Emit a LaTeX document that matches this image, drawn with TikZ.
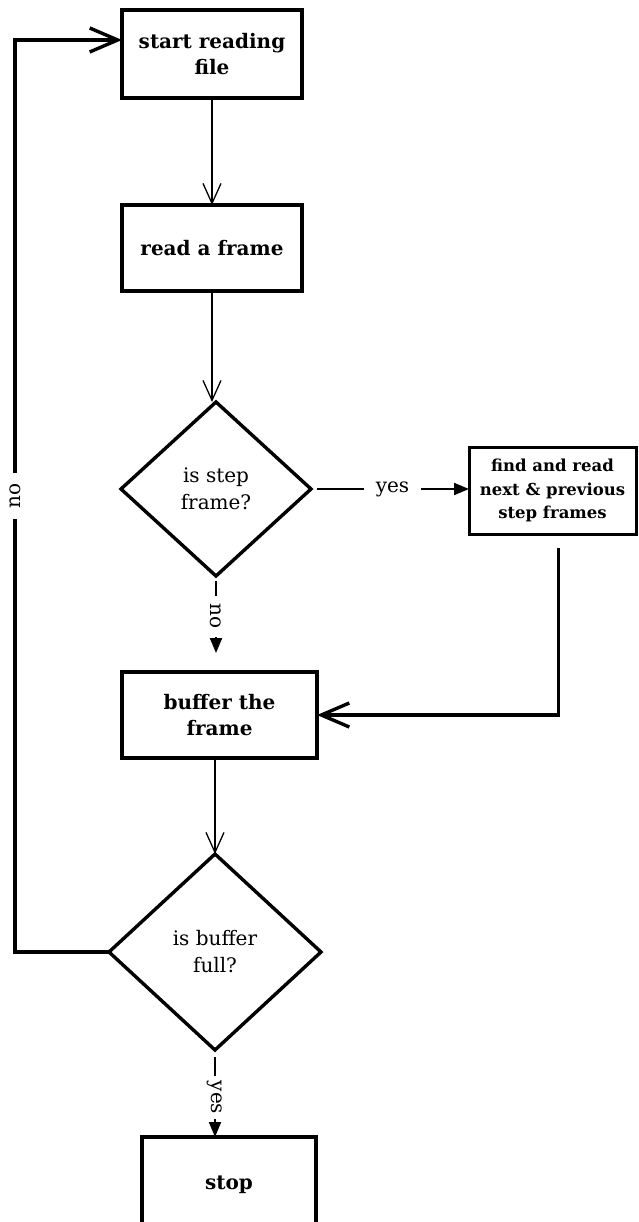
\documentclass[tikz,border=0pt]{standalone}
\usepackage{fontspec}
\setmainfont{DejaVu Serif}
\usetikzlibrary{shapes.geometric,arrows.meta}
\begin{document}
\begin{tikzpicture}[x=1pt,y=-1pt,
  box/.style={draw, rectangle, line width=4pt, inner sep=0pt, outer sep=0pt,
    align=center, font=\fontsize{20}{26}\selectfont\bfseries},
  smallbox/.style={box, line width=3pt, font=\fontsize{16.5}{23.5}\selectfont\bfseries},
  decision/.style={draw, diamond, line width=3.4pt, inner sep=0pt, outer sep=0pt,
    align=center, font=\fontsize{20}{27}\selectfont},
  flow/.style={line width=1.3pt, -{Straight Barb[length=20pt,width=18pt]}},
  branch/.style={line width=2pt, -{Triangle[length=15pt,width=12pt]}},
  loopline/.style={line width=3.4pt, -{Straight Barb[length=28pt,width=24pt]}},
  lbl/.style={fill=white, inner ysep=1pt, font=\fontsize{20}{25}\selectfont}
]
\useasboundingbox (0,0) rectangle (638,1222);
\clip (0,0) rectangle (638,1222);

% process steps
\node[box, minimum width=180pt, minimum height=88pt] (start) at (212,54) {start reading\\file};
\node[box, minimum width=180pt, minimum height=86pt] (read) at (212,248) {read a frame};
\node[decision, minimum width=190pt, minimum height=174pt] (isstep) at (216,489) {is step\\frame?};
\node[smallbox, minimum width=167pt, minimum height=87pt] (neighbours) at (552.5,490.5)
  {find and read\\next \& previous\\step frames};
\node[box, minimum width=195pt, minimum height=86pt] (buffer) at (219.5,715) {buffer the\\frame};
\node[decision, minimum width=212pt, minimum height=196pt] (isfull) at (215,952) {is buffer\\full?};
\node[box, minimum width=174pt, minimum height=96pt] (stop) at (229,1185) {stop};

% connectors
\coordinate (loop) at (15,40);
\draw[flow] (start.south) -- (read.north);
\draw[flow] (read.south) -- (read.south |- isstep.north);
\draw[branch, shorten <=6pt] (isstep.east) -- node[lbl, pos=0.516, inner xsep=12pt] {yes}
  (isstep.east -| neighbours.west);
\draw[branch, shorten <=5pt, shorten >=19pt] (isstep.south) --
  node[lbl, rotate=-90, pos=0.42, inner xsep=8pt] {no} (isstep.south |- buffer.north);
\draw[loopline, shorten <=14pt] ([xshift=6pt]neighbours.south) |- (buffer.east);
\draw[flow] (isfull.north |- buffer.south) -- (isfull.north);
\draw[loopline] (isfull.west) -| (loop) node[lbl, rotate=90, pos=0.75, inner xsep=11pt] {no}
  -- ([yshift=14pt]start.west);
\draw[branch, shorten <=7pt] (isfull.south) --
  node[lbl, rotate=-90, pos=0.546, inner xsep=5pt] {yes} (isfull.south |- stop.north);
\end{tikzpicture}
\end{document}
